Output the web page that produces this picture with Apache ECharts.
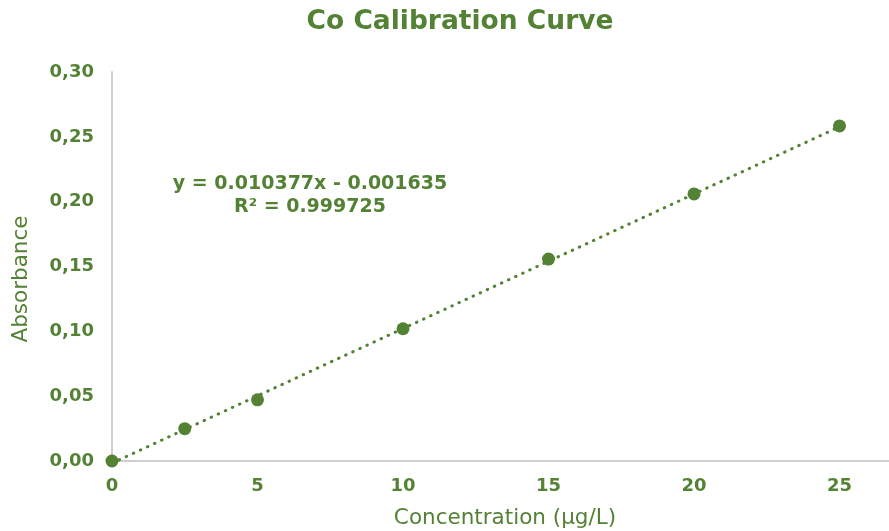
<!DOCTYPE html>
<html>
<head>
<meta charset="utf-8">
<style>html,body{margin:0;padding:0;background:#fff;}#c{width:889px;height:531px;}</style>
<script src="https://cdn.jsdelivr.net/npm/echarts@6/dist/echarts.min.js"></script>
</head>
<body>
<div id="c"></div>
<script>
// Data
const concentrations = [0, 2.5, 5, 10, 15, 20, 25];
const absorbances = [0.000, 0.0249, 0.0472, 0.1020, 0.1557, 0.2060, 0.2584];
// Trendline coefficients as printed on the chart
const slope = 0.010377;
const intercept = -0.001635;
const trendX = [0, 25];
const titleText = 'Co Calibration Curve';
const eqLines = ['y = 0.010377x - 0.001635', 'R² = 0.999725'];
const xName = 'Concentration (µg/L)';
const yName = 'Absorbance';

const green = '#548235';
const pts = concentrations.map((x, i) => [x, absorbances[i]]);
const trend = trendX.map(x => [x, slope * x + intercept]);

const chart = echarts.init(document.getElementById('c'), null, {renderer: 'canvas'});
chart.setOption({
  animation: false,
  backgroundColor: '#fff',
  grid: {left: 112, top: 72, right: 0, bottom: 70, containLabel: false},
  xAxis: {
    type: 'value', min: 0, max: 26.7, interval: 5,
    axisLine: {show: true, lineStyle: {color: '#cfcfcf', width: 2}},
    axisTick: {show: false},
    splitLine: {show: false},
    axisLabel: {showMaxLabel: false, color: green, fontFamily: 'DejaVu Sans', fontWeight: 'bold', fontSize: 18, margin: 16}
  },
  yAxis: {
    type: 'value', min: 0, max: 0.3, interval: 0.05,
    axisLine: {show: true, lineStyle: {color: '#cfcfcf', width: 2}},
    axisTick: {show: false},
    splitLine: {show: false},
    axisLabel: {color: green, fontFamily: 'DejaVu Sans', fontWeight: 'bold', fontSize: 18, margin: 18,
      formatter: v => v.toFixed(2).replace('.', ',')}
  },
  series: [
    {
      type: 'line', data: trend, showSymbol: false, symbol: 'none',
      lineStyle: {color: green, width: 3, type: [0.5, 7.3], cap: 'round'},
      z: 2
    },
    {
      type: 'scatter', data: pts, symbol: 'circle', symbolSize: 13,
      itemStyle: {color: green, opacity: 1}, z: 3
    }
  ],
  graphic: [
    {type: 'text', x: 460, y: 22, style: {text: titleText, fill: green, font: 'bold 26.5px "DejaVu Sans"', textAlign: 'center', textVerticalAlign: 'middle'}},
    {type: 'text', x: 310, y: 196, style: {text: eqLines.join('\n'), fill: green, font: 'bold 19px "DejaVu Sans"', lineHeight: 23, textAlign: 'center', textVerticalAlign: 'middle'}},
    {type: 'text', x: 505, y: 518, style: {text: xName, fill: green, font: '21.5px "DejaVu Sans"', textAlign: 'center', textVerticalAlign: 'middle'}},
    {type: 'text', x: 21, y: 279, rotation: Math.PI / 2, style: {text: yName, fill: green, font: '21.5px "DejaVu Sans"', textAlign: 'center', textVerticalAlign: 'middle'}}
  ]
});
</script>
</body>
</html>
